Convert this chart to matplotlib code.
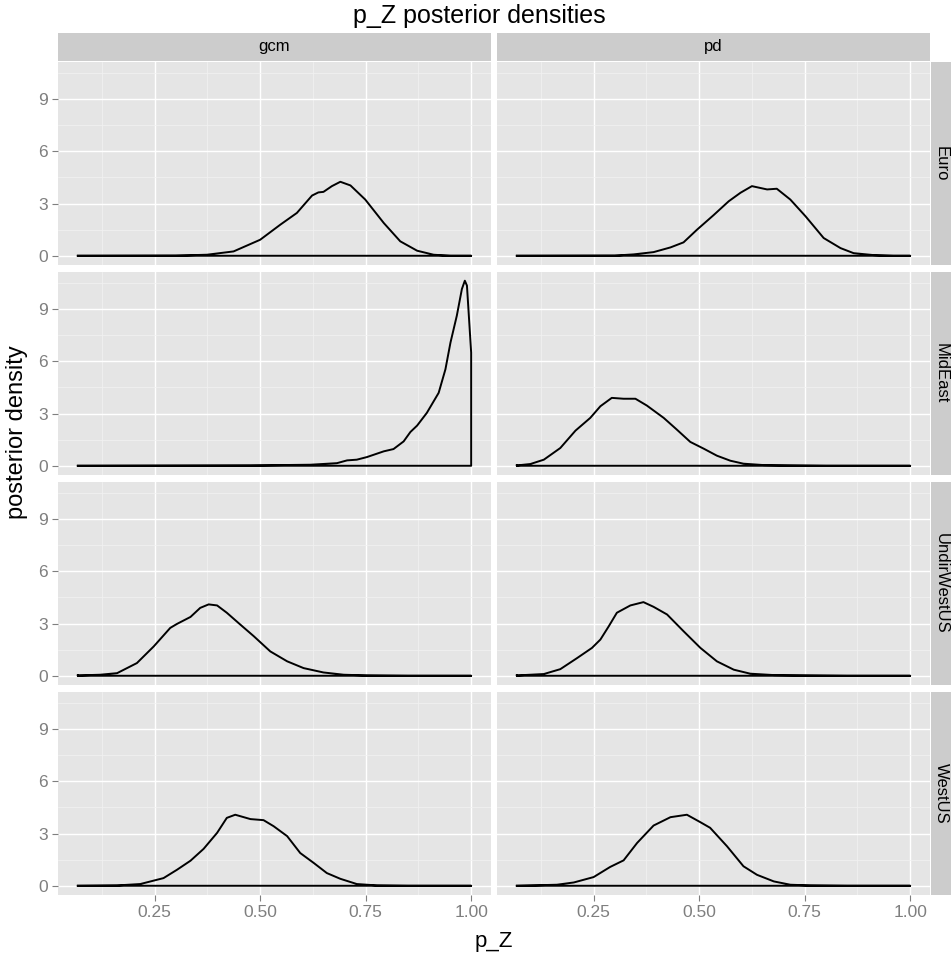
import matplotlib
matplotlib.use("Agg")
import matplotlib.pyplot as plt

plt.rcParams['font.family'] = ['Liberation Sans', 'DejaVu Sans']

# facet labels
col_labels = ['gcm', 'pd']
row_labels = ['Euro', 'MidEast', 'UndirWestUS', 'WestUS']

x_ticks = [0.25, 0.50, 0.75, 1.00]
x_tick_labels = ['0.25', '0.50', '0.75', '1.00']
y_ticks = [0, 3, 6, 9]

# density curves (x = p_Z, y = density)
gcm_euro_x = [0.068, 0.30, 0.374, 0.437, 0.50, 0.548, 0.587, 0.623, 0.638, 0.650, 0.670, 0.690,
              0.714, 0.749, 0.793, 0.832, 0.872, 0.911, 0.951, 1.0]
gcm_euro_y = [0.0, 0.01, 0.06, 0.25, 0.92, 1.79, 2.46, 3.46, 3.64, 3.67, 4.0, 4.25,
              4.04, 3.23, 1.88, 0.83, 0.29, 0.06, 0.0, 0.0]

pd_euro_x = [0.068, 0.30, 0.345, 0.392, 0.432, 0.463, 0.495, 0.534, 0.570, 0.598, 0.625, 0.661,
             0.684, 0.716, 0.752, 0.795, 0.835, 0.866, 0.913, 0.96, 1.0]
pd_euro_y = [0.0, 0.01, 0.08, 0.21, 0.48, 0.77, 1.5, 2.33, 3.13, 3.62, 4.0, 3.81,
             3.85, 3.23, 2.27, 1.02, 0.44, 0.15, 0.04, 0.0, 0.0]

gcm_mideast_x = [0.068, 0.477, 0.619, 0.682, 0.706, 0.729, 0.753, 0.793, 0.816, 0.840, 0.856,
                 0.872, 0.895, 0.923, 0.939, 0.951, 0.966, 0.978, 0.985, 0.990, 0.996, 1.0]
gcm_mideast_y = [0.0, 0.02, 0.06, 0.15, 0.31, 0.35, 0.5, 0.83, 0.96, 1.4, 1.94,
                 2.31, 3.04, 4.19, 5.54, 7.08, 8.62, 10.15, 10.63, 10.35, 8.04, 6.5]

pd_mideast_x = [0.068, 0.100, 0.132, 0.171, 0.207, 0.242, 0.266, 0.293, 0.321, 0.349, 0.376,
                0.416, 0.447, 0.479, 0.511, 0.542, 0.574, 0.605, 0.653, 0.716, 0.80, 1.0]
pd_mideast_y = [0.02, 0.1, 0.35, 1.02, 2.02, 2.75, 3.42, 3.9, 3.85, 3.85, 3.46,
                2.75, 2.08, 1.37, 0.98, 0.58, 0.29, 0.12, 0.04, 0.02, 0.0, 0.0]

gcm_undir_x = [0.068, 0.121, 0.161, 0.208, 0.248, 0.287, 0.303, 0.335, 0.358, 0.378, 0.398,
               0.421, 0.453, 0.485, 0.524, 0.564, 0.603, 0.650, 0.698, 0.753, 0.85, 1.0]
gcm_undir_y = [0.02, 0.06, 0.15, 0.73, 1.69, 2.75, 2.98, 3.38, 3.9, 4.1, 4.04,
               3.62, 2.94, 2.27, 1.4, 0.83, 0.44, 0.19, 0.06, 0.02, 0.0, 0.0]

pd_undir_x = [0.068, 0.132, 0.171, 0.211, 0.246, 0.266, 0.286, 0.305, 0.337, 0.368, 0.392,
              0.424, 0.463, 0.503, 0.542, 0.582, 0.621, 0.677, 0.756, 0.85, 1.0]
pd_undir_y = [0.02, 0.1, 0.38, 1.02, 1.6, 2.08, 2.85, 3.62, 4.04, 4.23, 3.96,
              3.52, 2.56, 1.6, 0.83, 0.35, 0.12, 0.04, 0.02, 0.0, 0.0]

gcm_west_x = [0.068, 0.161, 0.216, 0.271, 0.303, 0.335, 0.366, 0.398, 0.421, 0.441, 0.477,
              0.508, 0.532, 0.564, 0.595, 0.627, 0.658, 0.690, 0.729, 0.777, 0.85, 1.0]
gcm_west_y = [0.0, 0.02, 0.1, 0.44, 0.92, 1.44, 2.12, 3.04, 3.9, 4.08, 3.83,
              3.77, 3.42, 2.85, 1.88, 1.31, 0.73, 0.4, 0.1, 0.02, 0.0, 0.0]

pd_west_x = [0.068, 0.163, 0.203, 0.250, 0.289, 0.321, 0.353, 0.392, 0.432, 0.471, 0.503,
             0.526, 0.566, 0.605, 0.637, 0.677, 0.716, 0.763, 0.85, 1.0]
pd_west_y = [0.0, 0.06, 0.19, 0.5, 1.08, 1.46, 2.46, 3.46, 3.94, 4.08, 3.65,
             3.33, 2.27, 1.12, 0.63, 0.25, 0.06, 0.02, 0.0, 0.0]

curves = {
    ('Euro', 'gcm'): (gcm_euro_x, gcm_euro_y),
    ('Euro', 'pd'): (pd_euro_x, pd_euro_y),
    ('MidEast', 'gcm'): (gcm_mideast_x, gcm_mideast_y),
    ('MidEast', 'pd'): (pd_mideast_x, pd_mideast_y),
    ('UndirWestUS', 'gcm'): (gcm_undir_x, gcm_undir_y),
    ('UndirWestUS', 'pd'): (pd_undir_x, pd_undir_y),
    ('WestUS', 'gcm'): (gcm_west_x, gcm_west_y),
    ('WestUS', 'pd'): (pd_west_x, pd_west_y),
}

W, H = 951, 956
fig = plt.figure(figsize=(W / 100, H / 100), dpi=100)
fig.patch.set_facecolor('white')


def px_axes(x0, y0, w, h):
    # pixel box (top-left origin) -> figure axes
    return fig.add_axes([x0 / W, 1 - (y0 + h) / H, w / W, h / H])


col_x = [58, 497]
panel_w = 433
row_y = [62, 272, 482, 692]
panel_h = 203
strip_h = 28
strip_w = 20

for r, rname in enumerate(row_labels):
    for c, cname in enumerate(col_labels):
        ax = px_axes(col_x[c], row_y[r], panel_w, panel_h)
        ax.set_facecolor('#E5E5E5')
        for s in ax.spines.values():
            s.set_visible(False)
        ax.set_xlim(0.021, 1.047)
        ax.set_ylim(-0.53, 11.13)
        ax.set_xticks(x_ticks)
        ax.set_yticks(y_ticks)
        ax.set_xticks([0.125, 0.375, 0.625, 0.875], minor=True)
        ax.set_yticks([1.5, 4.5, 7.5, 10.5], minor=True)
        ax.grid(True, which='major', color='white', linewidth=1.0)
        ax.grid(True, which='minor', color='#F2F2F2', linewidth=0.5)
        ax.set_axisbelow(True)
        ax.tick_params(which='minor', length=0)
        ax.tick_params(which='major', color='#7F7F7F', length=4, width=0.8,
                       labelcolor='#7F7F7F', labelsize=12.5)
        if c == 0:
            ax.set_yticklabels([str(v) for v in y_ticks])
        else:
            ax.tick_params(axis='y', length=0, labelleft=False)
        if r == len(row_labels) - 1:
            ax.set_xticklabels(x_tick_labels)
        else:
            ax.tick_params(axis='x', length=0, labelbottom=False)

        xs, ys = curves[(rname, cname)]
        px = list(xs) + [xs[-1], xs[0], xs[0]]
        py = list(ys) + [0.0, 0.0, ys[0]]
        ax.plot(px, py, color='black', linewidth=1.4, solid_joinstyle='round')

        # column strip on top
        if r == 0:
            sax = px_axes(col_x[c], 33, panel_w, strip_h)
            sax.set_facecolor('#CCCCCC')
            sax.set_xticks([])
            sax.set_yticks([])
            for s in sax.spines.values():
                s.set_visible(False)
            sax.text(0.5, 0.5, cname, ha='center', va='center', fontsize=12,
                     transform=sax.transAxes)
        # row strip on right
        if c == 1:
            sax = px_axes(col_x[1] + panel_w + 1, row_y[r], strip_w, panel_h)
            sax.set_facecolor('#CCCCCC')
            sax.set_xticks([])
            sax.set_yticks([])
            for s in sax.spines.values():
                s.set_visible(False)
            sax.text(0.5, 0.5, rname, ha='center', va='center', fontsize=12,
                     rotation=-90, transform=sax.transAxes)

fig.text(479 / W, 1 - 16 / H, 'p_Z posterior densities', ha='center', va='center', fontsize=18)
fig.text(494 / W, 1 - 942 / H, 'p_Z', ha='center', va='center', fontsize=16)
fig.text(17 / W, 1 - 432 / H, 'posterior density', ha='center', va='center', fontsize=17,
         rotation=90)

fig.savefig('out.png', dpi=100)
